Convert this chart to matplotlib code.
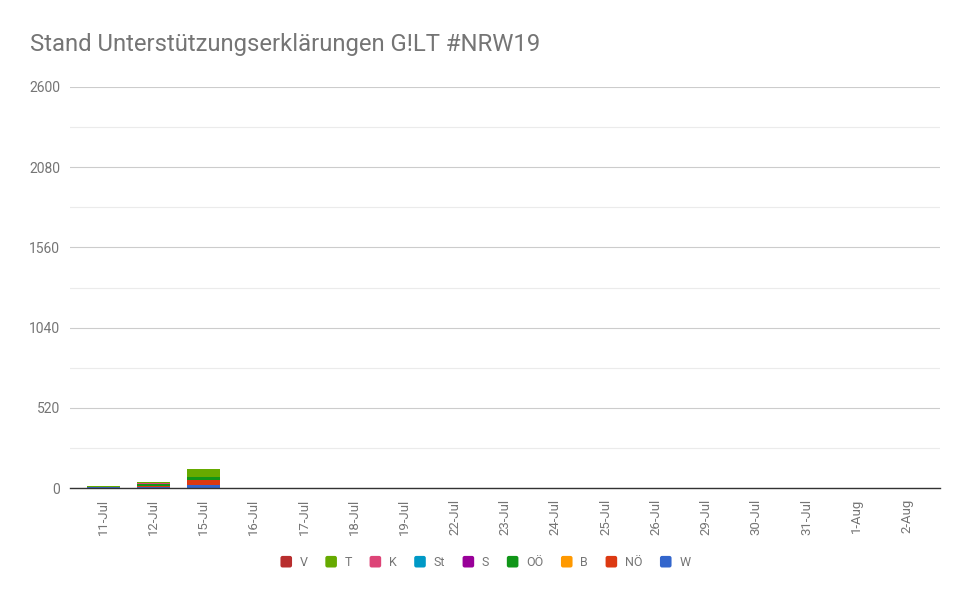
import matplotlib
matplotlib.use("Agg")
import matplotlib.pyplot as plt
from matplotlib.patches import FancyBboxPatch
from matplotlib.legend_handler import HandlerPatch
import numpy as np

plt.rcParams["font.family"] = ["Roboto", "DejaVu Sans"]

dates = ["11-Jul", "12-Jul", "15-Jul", "16-Jul", "17-Jul", "18-Jul", "19-Jul",
         "22-Jul", "23-Jul", "24-Jul", "25-Jul", "26-Jul", "29-Jul", "30-Jul",
         "31-Jul", "1-Aug", "2-Aug"]

# stacked bottom -> top
W = [6, 8, 20, 0, 0, 0, 0, 0, 0, 0, 0, 0, 0, 0, 0, 0, 0]
NOE = [0, 6, 35, 0, 0, 0, 0, 0, 0, 0, 0, 0, 0, 0, 0, 0, 0]
B = [0, 2, 0, 0, 0, 0, 0, 0, 0, 0, 0, 0, 0, 0, 0, 0, 0]
OOE = [0, 8, 15, 0, 0, 0, 0, 0, 0, 0, 0, 0, 0, 0, 0, 0, 0]
S = [0, 0, 0, 0, 0, 0, 0, 0, 0, 0, 0, 0, 0, 0, 0, 0, 0]
St = [0, 5, 4, 0, 0, 0, 0, 0, 0, 0, 0, 0, 0, 0, 0, 0, 0]
K = [0, 2, 0, 0, 0, 0, 0, 0, 0, 0, 0, 0, 0, 0, 0, 0, 0]
T = [10, 6, 50, 0, 0, 0, 0, 0, 0, 0, 0, 0, 0, 0, 0, 0, 0]
V = [0, 4, 0, 0, 0, 0, 0, 0, 0, 0, 0, 0, 0, 0, 0, 0, 0]

series = [("W", W, "#3366cc"), ("NÖ", NOE, "#dc3912"), ("B", B, "#ff9900"),
          ("OÖ", OOE, "#109618"), ("S", S, "#990099"), ("St", St, "#0099c6"),
          ("K", K, "#dd4477"), ("T", T, "#66aa00"), ("V", V, "#b82e2e")]

TEXT = "#757575"

fig = plt.figure(figsize=(9.7, 5.99), dpi=100, facecolor="white")
ax = fig.add_axes([70 / 970, 1 - 488 / 599, 870 / 970, 401 / 599])

x = np.arange(len(dates))
bottom = np.zeros(len(dates))
handles = []
for name, vals, color in series:
    vals = np.array(vals, dtype=float)
    h = ax.bar(x, vals, 0.66, bottom=bottom, color=color, label=name, zorder=3)
    bottom += vals
    handles.append(h)

ax.set_xlim(-0.66, len(dates) - 0.34)
ax.set_ylim(0, 2600)
ax.set_yticks([0, 520, 1040, 1560, 2080, 2600])
ax.set_yticks([260, 780, 1300, 1820, 2340], minor=True)
ax.grid(True, which="major", axis="y", color="#cccccc", linewidth=0.8, zorder=0)
ax.grid(True, which="minor", axis="y", color="#ebebeb", linewidth=0.8, zorder=0)
ax.set_xticks(x)
ax.set_xticklabels(dates, rotation=90)
ax.tick_params(axis="both", which="both", length=0, colors=TEXT, labelsize=9.5)
ax.tick_params(axis="y", labelsize=10)
ax.tick_params(axis="x", pad=8)
ax.tick_params(axis="y", pad=7)
for sp in ("top", "right", "left"):
    ax.spines[sp].set_visible(False)
ax.spines["bottom"].set_color("#333333")
ax.spines["bottom"].set_linewidth(1.0)
ax.spines["bottom"].set_zorder(4)

fig.text(30 / 970, 1 - 45 / 599, "Stand Unterstützungserklärungen G!LT #NRW19",
         fontsize=17.2, color="#757575", va="center", ha="left")


class RoundSquare(HandlerPatch):
    def create_artists(self, legend, orig, xd, yd, w, h, fs, trans):
        s = min(w, h)
        p = FancyBboxPatch((xd + (w - s) / 2, yd + (h - s) / 2 - 0.28 * fs), s, s,
                           boxstyle="round,pad=0,rounding_size=1.5",
                           facecolor=orig.patches[0].get_facecolor(), edgecolor="none",
                           transform=trans)
        return [p]


leg_order = handles[::-1]
fig.legend(leg_order, [h.get_label() for h in leg_order], loc="center",
           bbox_to_anchor=(485 / 970, 1 - 562 / 599), ncol=9, frameon=False,
           fontsize=9, labelcolor=TEXT, handlelength=1.05, handleheight=1.05,
           handletextpad=0.55, columnspacing=1.35,
           handler_map={type(handles[0]): RoundSquare()})

fig.savefig("out.png", dpi=100, facecolor="white")
